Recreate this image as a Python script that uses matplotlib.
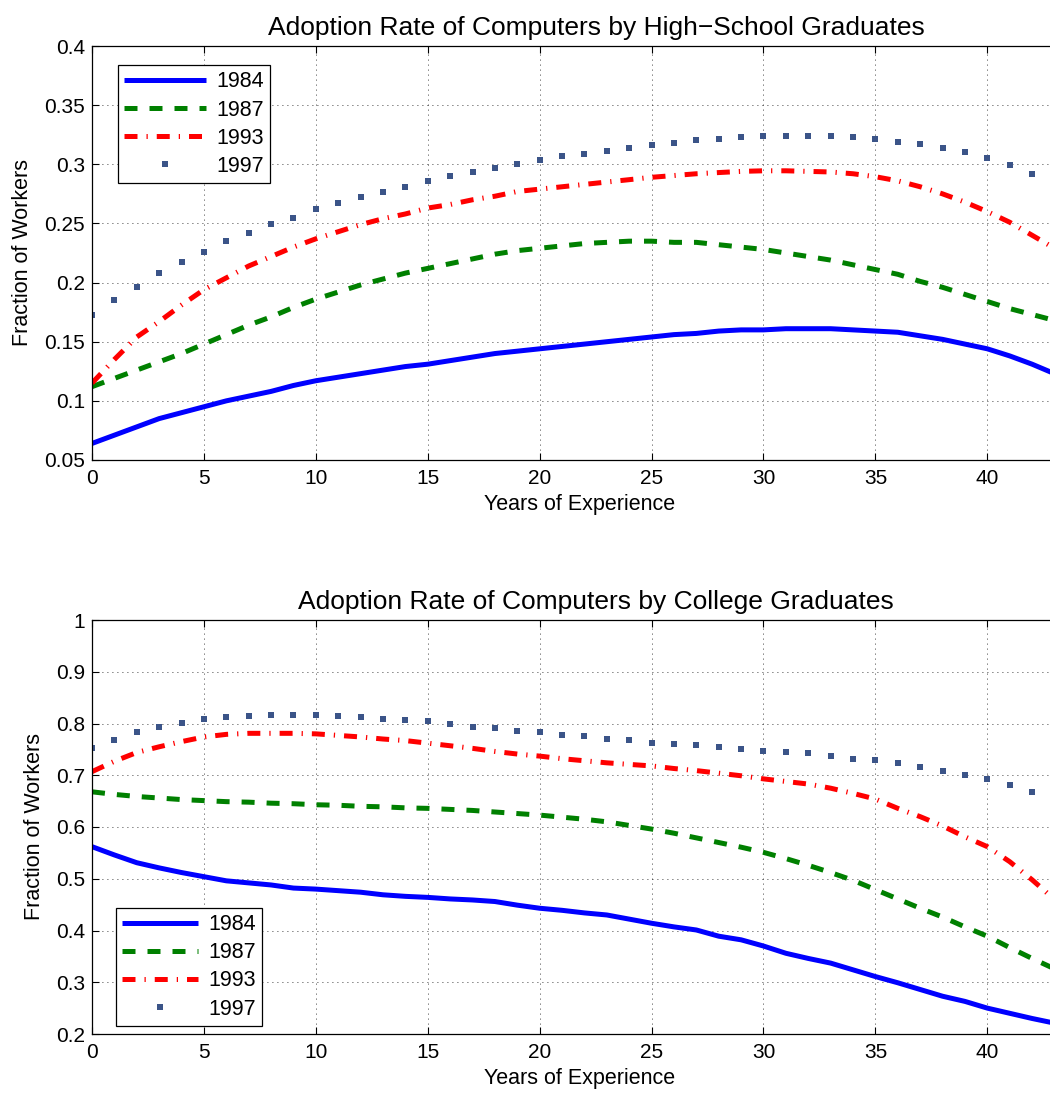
import numpy as np
import matplotlib.pyplot as plt

plt.rcParams['font.family'] = ['Liberation Sans', 'DejaVu Sans']

# years of experience
years = np.arange(0, 44)

# high-school graduates
hs_1984 = [0.064, 0.071, 0.078, 0.085, 0.090, 0.095, 0.100, 0.104, 0.108, 0.113,
           0.117, 0.120, 0.123, 0.126, 0.129, 0.131, 0.134, 0.137, 0.140, 0.142,
           0.144, 0.146, 0.148, 0.150, 0.152, 0.154, 0.156, 0.157, 0.159, 0.160,
           0.160, 0.161, 0.161, 0.161, 0.160, 0.159, 0.158, 0.155, 0.152, 0.148,
           0.144, 0.138, 0.131, 0.123]
hs_1987 = [0.112, 0.119, 0.126, 0.133, 0.140, 0.148, 0.156, 0.164, 0.171, 0.179,
           0.186, 0.192, 0.198, 0.203, 0.208, 0.212, 0.216, 0.220, 0.224, 0.227,
           0.229, 0.231, 0.233, 0.234, 0.235, 0.235, 0.234, 0.234, 0.232, 0.230,
           0.228, 0.225, 0.222, 0.219, 0.215, 0.211, 0.207, 0.201, 0.196, 0.190,
           0.184, 0.178, 0.173, 0.168]
hs_1993 = [0.115, 0.135, 0.154, 0.167, 0.181, 0.194, 0.204, 0.214, 0.222, 0.230,
           0.237, 0.243, 0.249, 0.254, 0.258, 0.263, 0.266, 0.270, 0.273, 0.277,
           0.279, 0.281, 0.283, 0.285, 0.287, 0.289, 0.2905, 0.292, 0.293, 0.294,
           0.2945, 0.2945, 0.294, 0.2935, 0.292, 0.2895, 0.286, 0.281, 0.275, 0.268,
           0.260, 0.251, 0.240, 0.229]
hs_1997 = [0.173, 0.185, 0.1965, 0.208, 0.217, 0.226, 0.235, 0.2415, 0.2495, 0.255,
           0.262, 0.2675, 0.272, 0.2765, 0.281, 0.2855, 0.290, 0.2935, 0.297, 0.300,
           0.3035, 0.307, 0.309, 0.3115, 0.314, 0.316, 0.318, 0.3205, 0.3215, 0.323,
           0.324, 0.324, 0.324, 0.324, 0.323, 0.3215, 0.319, 0.317, 0.314, 0.310,
           0.305, 0.299, 0.292, 0.285]

# college graduates
col_1984 = [0.562, 0.546, 0.531, 0.521, 0.512, 0.504, 0.496, 0.492, 0.488, 0.482,
            0.480, 0.477, 0.474, 0.469, 0.466, 0.464, 0.461, 0.459, 0.456, 0.449,
            0.443, 0.439, 0.434, 0.430, 0.422, 0.414, 0.407, 0.401, 0.389, 0.382,
            0.370, 0.356, 0.346, 0.337, 0.324, 0.311, 0.299, 0.286, 0.273, 0.263,
            0.250, 0.240, 0.230, 0.221]
col_1987 = [0.668, 0.663, 0.659, 0.656, 0.653, 0.651, 0.649, 0.648, 0.646, 0.645,
            0.643, 0.642, 0.640, 0.639, 0.637, 0.636, 0.634, 0.632, 0.629, 0.626,
            0.623, 0.619, 0.615, 0.610, 0.603, 0.596, 0.588, 0.579, 0.570, 0.561,
            0.551, 0.539, 0.526, 0.512, 0.497, 0.479, 0.461, 0.443, 0.426, 0.407,
            0.389, 0.367, 0.346, 0.326]
col_1993 = [0.707, 0.727, 0.744, 0.755, 0.765, 0.774, 0.779, 0.781, 0.781, 0.781,
            0.780, 0.777, 0.774, 0.770, 0.767, 0.762, 0.757, 0.752, 0.746, 0.741,
            0.737, 0.732, 0.728, 0.724, 0.721, 0.718, 0.713, 0.709, 0.704, 0.699,
            0.693, 0.688, 0.683, 0.675, 0.665, 0.654, 0.636, 0.620, 0.602, 0.581,
            0.562, 0.533, 0.498, 0.460]
col_1997 = [0.753, 0.768, 0.784, 0.794, 0.8015, 0.809, 0.812, 0.8145, 0.817, 0.817,
            0.817, 0.8145, 0.812, 0.809, 0.807, 0.804, 0.799, 0.794, 0.791, 0.786,
            0.7835, 0.778, 0.776, 0.7705, 0.768, 0.763, 0.7605, 0.758, 0.755, 0.750,
            0.7475, 0.745, 0.7425, 0.737, 0.732, 0.7295, 0.724, 0.7165, 0.709, 0.701,
            0.6935, 0.6805, 0.6675, 0.655]

labels = ['1984', '1987', '1993', '1997']

fig = plt.figure(figsize=(10.5, 10.93), dpi=100)
ax1 = fig.add_axes([92 / 1050, 1 - 460 / 1093, 1 - 92 / 1050, 414 / 1093])
ax2 = fig.add_axes([92 / 1050, 1 - 1034 / 1093, 1 - 92 / 1050, 414 / 1093])


def draw(ax, s84, s87, s93, s97):
    lw = 3.6
    ax.plot(years, s84, color='#0000ff', lw=lw, solid_capstyle='butt', label=labels[0])
    ax.plot(years, s87, color='#008000', lw=lw, dashes=(2.6, 2.4), label=labels[1])
    ax.plot(years, s93, color='#ff0000', lw=lw, dashes=(2.6, 1.8, 0.25, 1.8), label=labels[2])
    ax.plot(years, s97, color='#3b5488', ls='none', marker='s', ms=4.6, mew=0, label=labels[3])
    ax.set_xlim(0, 42.8)
    ax.set_xticks(np.arange(0, 45, 5))
    ax.grid(True, color='black', ls=(0, (1, 5)), lw=0.6)
    ax.tick_params(direction='in', top=True, right=False, length=5, width=0.8,
                   labelsize=15)
    ax.tick_params(axis='x', pad=6.5)
    ax.tick_params(axis='y', pad=5)
    ax.spines['right'].set_visible(False)
    for s in ['left', 'top', 'bottom']:
        ax.spines[s].set_linewidth(0.9)
    ax.set_xlabel('Years of Experience', fontsize=15.5, labelpad=4, x=0.509)
    ax.set_ylabel('Fraction of Workers', fontsize=15.5, labelpad=8)


draw(ax1, hs_1984, hs_1987, hs_1993, hs_1997)
ax1.set_ylim(0.05, 0.4)
ax1.set_yticks(np.arange(0.05, 0.401, 0.05))
ax1.set_yticklabels(['0.05', '0.1', '0.15', '0.2', '0.25', '0.3', '0.35', '0.4'])
ax1.set_title('Adoption Rate of Computers by High\u2212School Graduates',
              fontsize=19, pad=8, x=0.526)

draw(ax2, col_1984, col_1987, col_1993, col_1997)
ax2.set_ylim(0.2, 1.0)
ax2.set_yticks(np.arange(0.2, 1.01, 0.1))
ax2.set_yticklabels(['0.2', '0.3', '0.4', '0.5', '0.6', '0.7', '0.8', '0.9', '1'])
ax2.set_title('Adoption Rate of Computers by College Graduates',
              fontsize=19, pad=8, x=0.526)

leg_kw = dict(fontsize=15.5, frameon=True, fancybox=False, framealpha=1,
              edgecolor='black', handletextpad=0.47,
              labelspacing=0.33, borderpad=0.3, borderaxespad=0,
              bbox_transform=fig.transFigure)
l1 = ax1.legend(loc='upper left', bbox_to_anchor=(118 / 1050, 1 - 65 / 1093),
                handlelength=3.8, **leg_kw)
l2 = ax2.legend(loc='lower left', bbox_to_anchor=(116 / 1050, 1 - 1026 / 1093),
                handlelength=3.5, **leg_kw)
for leg in (l1, l2):
    leg.get_frame().set_linewidth(0.9)

plt.savefig('out.png', dpi=100)
